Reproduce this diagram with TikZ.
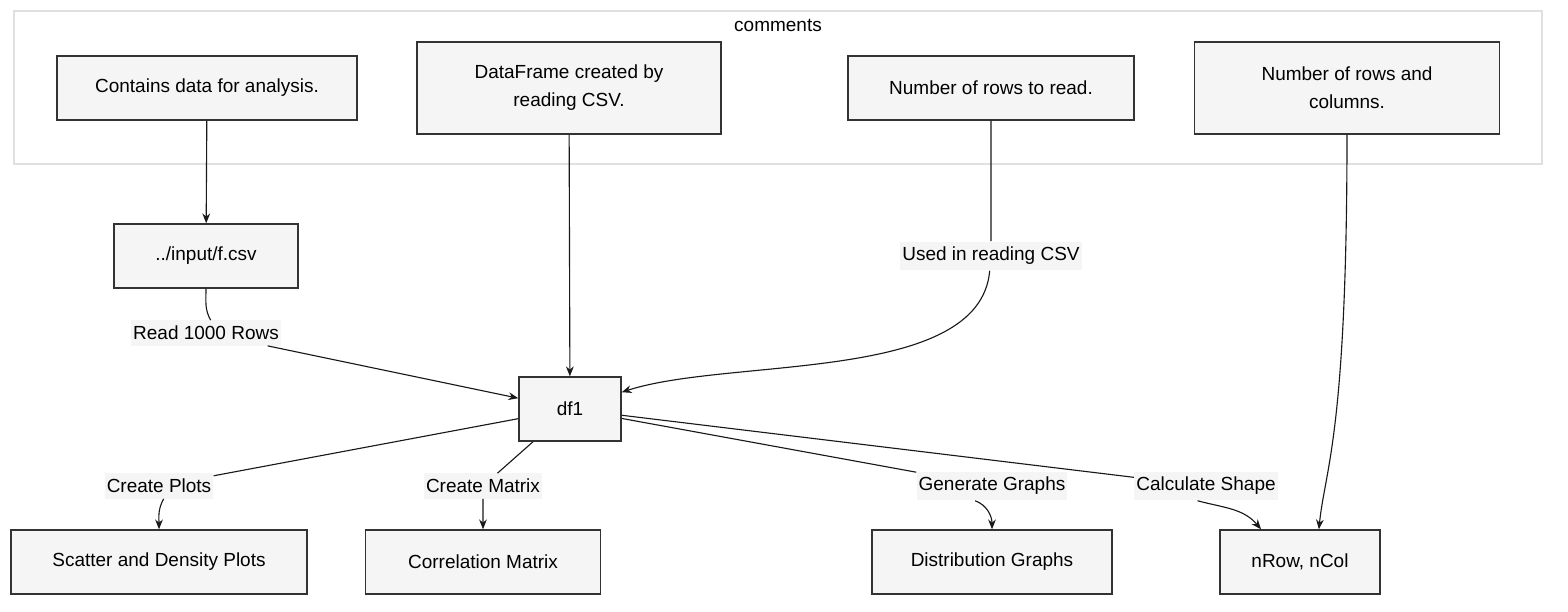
\documentclass[tikz,border=0pt]{standalone}
\usepackage{fontspec}
\setmainfont{Liberation Sans}
\usetikzlibrary{arrows.meta}

\tikzset{
  box/.style={draw=black!80, fill=black!4, line width=1pt, align=center,
              minimum height=1.6cm, font=\fontsize{13.5}{20}\selectfont},
  tallbox/.style={box, minimum height=2.3cm},
  lbl/.style={fill=black!4, inner xsep=1.5pt, inner ysep=4pt,
              font=\fontsize{13.5}{16}\selectfont},
  edge/.style={line width=0.8pt, black!90}
}

\begin{document}
\begin{tikzpicture}[>={Stealth[length=7pt,width=5.5pt]}, x=0.025cm, y=-0.025cm]
  \useasboundingbox (0,0) rectangle (1568,612);
  % comments group
  \draw[black!12, line width=1.2pt] (14,11) rectangle (1542,164);
  \node[font=\fontsize{13.5}{16}\selectfont] (cmt) at (778,25) {comments};
  \node[box, minimum width=7.5cm] (noteA) at (207,88) {Contains data for analysis.};
  \node[tallbox, minimum width=7.6cm] (noteB) at (569,88) {DataFrame created by\\reading CSV.};
  \node[box, minimum width=7.15cm] (noteC) at (991,88) {Number of rows to read.};
  \node[tallbox, minimum width=7.625cm] (noteD) at (1347,88) {Number of rows and\\columns.};
  % data nodes
  \node[box, minimum width=4.6cm] (csv) at (206,256) {../input/f.csv};
  \node[box, minimum width=2.55cm] (df1) at (570,409) {df1};
  \node[box, minimum width=7.4cm] (scatter) at (159,562) {Scatter and Density Plots};
  \node[box, minimum width=5.875cm] (corr) at (483,562) {Correlation Matrix};
  \node[box, minimum width=6cm] (dist) at (992,562) {Distribution Graphs};
  \node[box, minimum width=4cm] (shape) at (1300,562) {nRow, nCol};
  % edge labels
  \node[lbl] (lread) at (206,333) {Read 1000 Rows};
  \node[lbl] (lused) at (991,256) {Used in reading CSV};
  \node[lbl] (lplots) at (159,486) {Create Plots};
  \node[lbl] (lmatrix) at (483,486) {Create Matrix};
  \node[lbl] (lgen) at (992,486) {Generate Graphs};
  \node[lbl] (lshape) at (1206,486) {Calculate Shape};
  % connectors
  \draw[edge, ->] (noteA) -- (csv);
  \draw[edge, ->] (noteB) -- (df1);
  \draw[edge, ->] (csv.south) to[out=-90, in=120] (lread.70) (lread) -- (df1);
  \draw[edge, ->] (noteC) -- (lused) to[out=-95, in=18, looseness=0.75] (df1);
  \draw[edge, ->] (noteD.south) .. controls +(0,300) and +(6,-60) .. (shape.60);
  \draw[edge, ->] (df1) -- (lplots) (lplots.-70) to[out=-120, in=90] (scatter);
  \draw[edge, ->] (df1) -- (lmatrix) -- (corr);
  \draw[edge, ->] (df1) -- (lgen) ([xshift=-12]lgen.south) to[out=-20, in=90] (dist);
  \draw[edge, ->] (df1) -- (lshape) ([xshift=-6]lshape.south) to[out=-15, in=130] (shape.140);
\end{tikzpicture}
\end{document}
